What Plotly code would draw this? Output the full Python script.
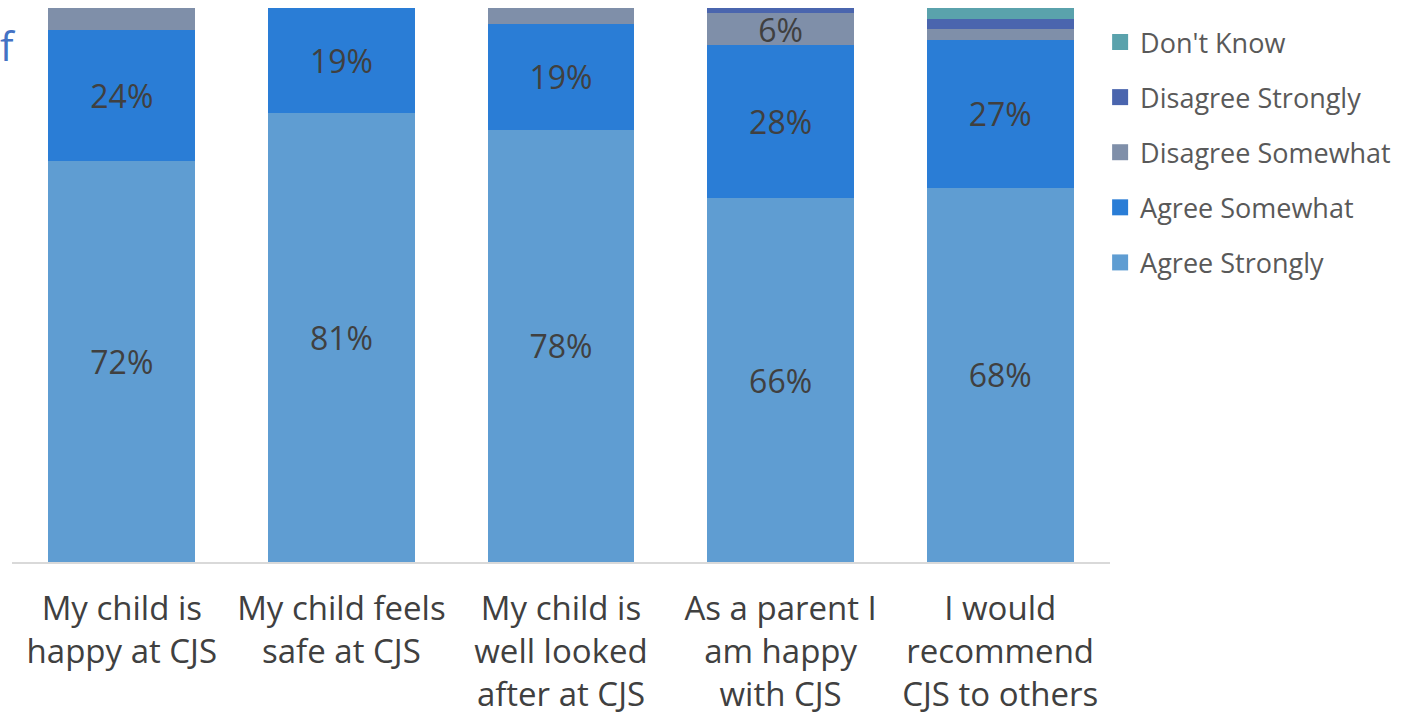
import plotly.graph_objects as go

categories = ["My child is<br>happy at CJS", "My child feels<br>safe at CJS",
              "My child is<br>well looked<br>after at CJS", "As a parent I<br>am happy<br>with CJS",
              "I would<br>recommend<br>CJS to others"]
agree_strongly = [72.4, 81.0, 78.0, 65.7, 67.6]
agree_somewhat = [23.6, 19.0, 19.1, 27.6, 26.6]
disagree_somewhat = [4.0, 0.0, 2.9, 5.8, 2.0]
disagree_strongly = [0.0, 0.0, 0.0, 0.9, 1.8]
dont_know = [0.0, 0.0, 0.0, 0.0, 2.0]

series = [
    ("Agree Strongly", agree_strongly, "#5f9dd2"),
    ("Agree Somewhat", agree_somewhat, "#2a7dd6"),
    ("Disagree Somewhat", disagree_somewhat, "#7f8fa9"),
    ("Disagree Strongly", disagree_strongly, "#4a65ae"),
    ("Don't Know", dont_know, "#5aa2ac"),
]

FONT = "Open Sans"
fig = go.Figure()
n = len(series)
for i, (name, vals, color) in enumerate(series):
    fig.add_trace(go.Bar(
        x=categories, y=vals, name=name, showlegend=False,
        marker=dict(color=color, line=dict(width=0)),
        text=[f"{round(v)}%" if v >= 5 else "" for v in vals],
        textposition="inside", insidetextanchor="middle", textangle=0,
        textfont=dict(family=FONT, size=32, color="#404040"),
        hoverinfo="skip",
    ))
    # legend entry with a larger square swatch
    fig.add_trace(go.Scatter(
        x=[None], y=[None], mode="markers", name=name,
        legendgroup=f"g{i}", legendrank=n - i,
        marker=dict(symbol="square", size=17, color=color, line=dict(width=0)),
    ))

fig.add_annotation(text="f", xref="paper", yref="paper", x=-0.0128, y=0.933,
                   xanchor="left", yanchor="middle", showarrow=False,
                   font=dict(family=FONT, size=40, color="#4472c4"))

fig.update_layout(
    barmode="stack", bargap=0.332,
    width=1404, height=717,
    margin=dict(l=12, r=294, t=8, b=155),
    paper_bgcolor="white", plot_bgcolor="white",
    uniformtext=dict(minsize=32, mode="show"),
    legend=dict(traceorder="grouped", x=0.991, xanchor="left", y=0.982, yanchor="top",
                font=dict(family=FONT, size=27, color="#595959"),
                tracegroupgap=17, itemwidth=30, bgcolor="rgba(0,0,0,0)"),
    xaxis=dict(showline=True, linecolor="#d9d9d9", linewidth=1.5, ticks="",
               tickfont=dict(family=FONT, size=33, color="#404040"), fixedrange=True,
               ticklabelstandoff=17, automargin=False),
    yaxis=dict(range=[0, 100], visible=False, showgrid=False, fixedrange=True),
    showlegend=True,
)
fig.write_html("out.html", config={"displayModeBar": False},
               post_script="document.body.style.margin='0';document.body.style.overflow='hidden';")
